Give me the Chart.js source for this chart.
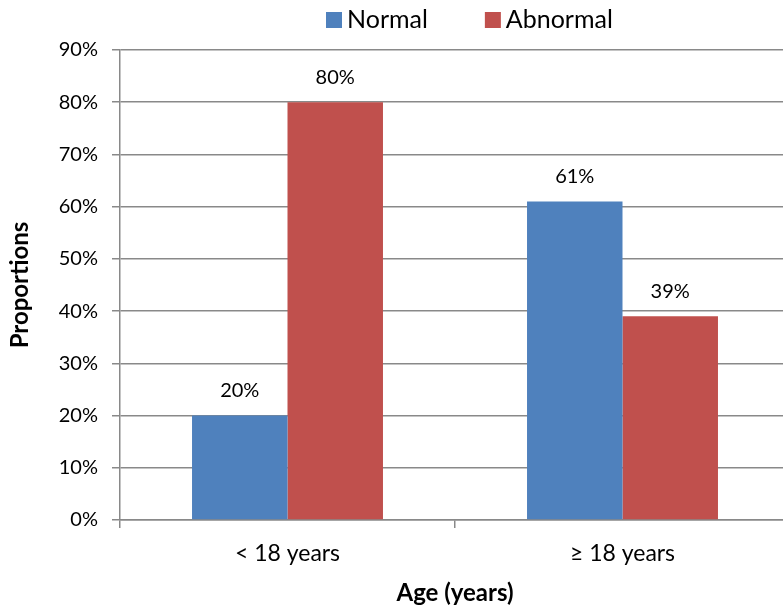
<!DOCTYPE html>
<html>
<head>
<meta charset="utf-8">
<script src="https://cdn.jsdelivr.net/npm/chart.js@4.4.1/dist/chart.umd.min.js"></script>
<style>
  html, body { margin: 0; padding: 0; background: #fff; overflow: hidden; }
  #wrap { width: 783px; height: 610px; overflow: hidden; }
</style>
</head>
<body>
<div id="wrap"><canvas id="chart" width="790" height="610"></canvas></div>
<script>
const categories = ["< 18 years", "\u2265 18 years"];
const normalValues = [20, 61];
const abnormalValues = [80, 39];
const yTicks = [0, 10, 20, 30, 40, 50, 60, 70, 80, 90];

const FONT = "Lato, 'Open Sans', sans-serif";
const GRID = "#898989";

// labels above each bar, placed from the bar elements
const barLabels = {
  id: "barLabels",
  afterDatasetsDraw(chart) {
    const ctx = chart.ctx;
    ctx.save();
    ctx.font = `20px ${FONT}`;
    ctx.fillStyle = "#000";
    ctx.textAlign = "center";
    ctx.textBaseline = "middle";
    chart.data.datasets.forEach((ds, i) => {
      chart.getDatasetMeta(i).data.forEach((bar, j) => {
        ctx.fillText(ds.data[j] + "%", bar.x, bar.y - 25);
      });
    });
    ctx.restore();
  }
};

// simple legend row across the top, like the office chart
const topLegend = {
  id: "topLegend",
  afterDraw(chart) {
    const ctx = chart.ctx;
    ctx.save();
    ctx.font = `25px ${FONT}`;
    ctx.textBaseline = "middle";
    ctx.textAlign = "left";
    let x = 326;
    const y = 20;
    chart.data.datasets.forEach(ds => {
      ctx.fillStyle = ds.backgroundColor;
      ctx.fillRect(x, y - 8, 16, 16);
      ctx.fillStyle = "#000";
      ctx.fillText(ds.label, x + 21, y);
      x += 21 + ctx.measureText(ds.label).width + 57;
    });
    ctx.restore();
  }
};

new Chart(document.getElementById("chart"), {
  type: "bar",
  data: {
    labels: categories,
    datasets: [
      { label: "Normal", data: normalValues, backgroundColor: "#4f81bd",
        categoryPercentage: 0.57, barPercentage: 1 },
      { label: "Abnormal", data: abnormalValues, backgroundColor: "#c0504d",
        categoryPercentage: 0.57, barPercentage: 1 }
    ]
  },
  options: {
    responsive: false,
    animation: false,
    layout: { padding: { left: 0, right: 0, top: 50, bottom: 0 } },
    plugins: {
      legend: { display: false },
      tooltip: { enabled: false }
    },
    scales: {
      x: {
        grid: { display: true, drawOnChartArea: false, color: GRID, lineWidth: 1.5, tickLength: 8, offset: true },
        border: { color: GRID, width: 1.5 },
        ticks: { color: "#000", font: { family: FONT, size: 23 }, padding: 12 },
        title: { display: true, text: "Age (years)", color: "#000",
          font: { family: FONT, size: 24, weight: "bold" }, padding: { top: 4, bottom: 2 } },
        afterFit(scale) { scale.height = 90; }
      },
      y: {
        min: 0,
        max: 90,
        afterBuildTicks(scale) { scale.ticks = yTicks.map(v => ({ value: v })); },
        grid: { color: GRID, lineWidth: 1.5, tickLength: 8 },
        border: { color: GRID, width: 1.5 },
        ticks: { color: "#000", font: { family: FONT, size: 20 }, padding: 14,
          callback: v => v + "%" },
        title: { display: true, text: "Proportions", color: "#000",
          font: { family: FONT, size: 24, weight: "bold" }, padding: { top: 6, bottom: 4 } },
        afterFit(scale) { scale.width = 120; }
      }
    }
  },
  plugins: [barLabels, topLegend]
});
</script>
</body>
</html>
